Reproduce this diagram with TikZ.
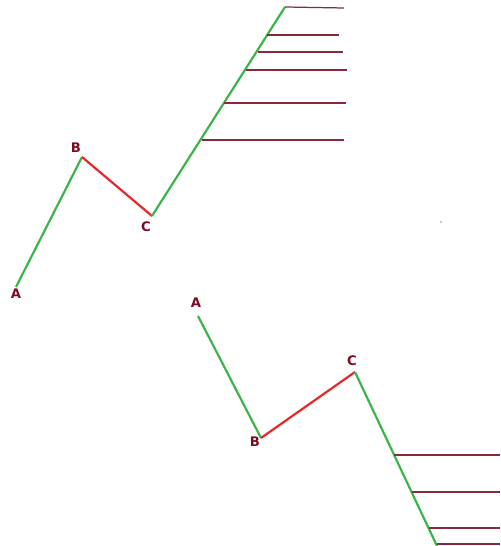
\documentclass[tikz,border=0pt]{standalone}
\usepackage{fontspec}
\setmainfont{DejaVu Sans}
\definecolor{legup}{RGB}{60,180,75}
\definecolor{legdown}{RGB}{232,40,40}
\definecolor{labred}{RGB}{125,10,35}
\definecolor{levred}{RGB}{140,40,60}
\tikzset{
	impulse/.style={legup, line width=1.25pt},
	correction/.style={legdown, line width=1.25pt},
	level/.style={levred, line width=.7pt},
	wavelab/.style={text=labred, font=\fontsize{7.5}{8}\selectfont\bfseries, inner sep=0pt}
}
\begin{document}
\begin{tikzpicture}[x=.02cm,y=-.02cm]
		\useasboundingbox (0,0) rectangle (500,546);

		% upper pattern
		\coordinate (uA) at (16,287);
		\coordinate (uB) at (82,157);
		\coordinate (uC) at (152,216);
		\coordinate (uD) at (285,7);
		\node[wavelab] (uAlab) at (16,294) {A};
		\node[wavelab] (uBlab) at (76,148) {B};
		\node[wavelab] (uClab) at (146,227) {C};
		\draw[impulse] (uA) -- (uB);
		\draw[correction] (uB) -- (uC);
		\draw[impulse] (uC) -- (uD);

		\coordinate (ul1) at (344,8);
		\coordinate (ul2) at (339,35);
		\coordinate (ul3) at (343,52);
		\coordinate (ul4) at (347,70);
		\coordinate (ul5) at (346,103);
		\coordinate (ul6) at (344,140);
		\draw[level] (uD) -- (ul1);
		\draw[level] (267,35) -- (ul2);
		\draw[level] (258,52) -- (ul3);
		\draw[level] (246,70) -- (ul4);
		\draw[level] (224,103) -- (ul5);
		\draw[level] (202,140) -- (ul6);

		\fill[levred!60] (441,222) circle(.8);

		% lower pattern
		\coordinate (lA) at (198,316);
		\coordinate (lB) at (261,438);
		\coordinate (lC) at (355,372);
		\coordinate (lD) at (437,546);
		\node[wavelab] (lAlab) at (196,303) {A};
		\node[wavelab] (lBlab) at (255,442) {B};
		\node[wavelab] (lClab) at (352,361) {C};
		\draw[impulse] (lA) -- (lB);
		\draw[correction] (lB) -- (lC);
		\draw[impulse] (lC) -- (lD);

		\draw[level] (394,455) -- (500,455);
		\draw[level] (412,492) -- (500,492);
		\draw[level] (429,528) -- (500,528);
		\draw[level] (437,544) -- (500,544);
	\end{tikzpicture}
\end{document}
